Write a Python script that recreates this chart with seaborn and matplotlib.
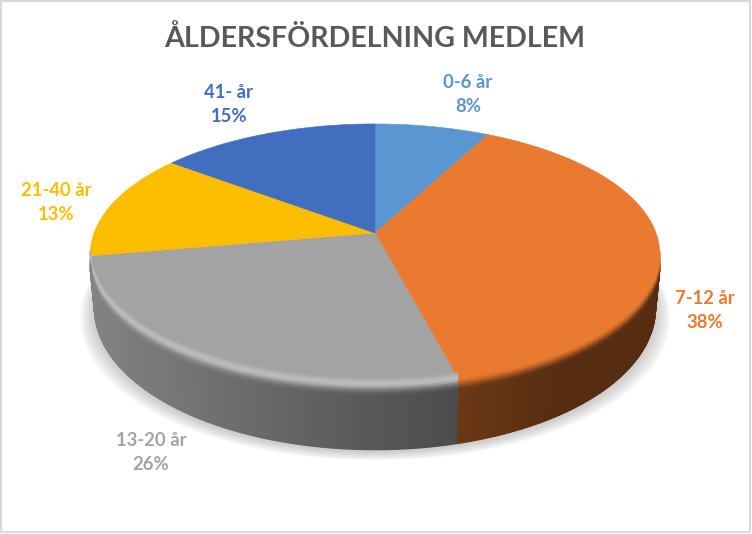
import numpy as np
import matplotlib
matplotlib.use('Agg')
import matplotlib.pyplot as plt
from matplotlib.collections import PolyCollection
from matplotlib.patches import Rectangle
import seaborn as sns

# data
age_groups = ['0-6 år', '7-12 år', '13-20 år', '21-40 år', '41- år']
shares = [7.6, 38.4, 26.2, 13.2, 14.6]
slice_colors = ['#5A96D2', '#E97A2F', '#A3A3A3', '#FDBD00', '#416EBE']
title = 'ÅLDERSFÖRDELNING MEDLEM'

# layout, in pixels of the 752x534 picture
label_pos = [(468, 95), (705, 311), (151, 453), (56, 202), (229, 104)]
apex_x, apex_y = 375, 233
scale_x, scale_y, persp = 281, 126.5, 0.16
rim_h, rim_up = 18, 5
silhouette_y = 257.5

sns.set_theme(style='white')
plt.rcParams['font.family'] = ['Lato', 'DejaVu Sans']
palette = sns.color_palette(slice_colors)

fig = plt.figure(figsize=(7.52, 5.34), dpi=100)
ax = fig.add_axes([0, 0, 1, 1])
ax.set_xlim(0, 752)
ax.set_ylim(534, 0)
ax.axis('off')


# angle measured clockwise from the top of the pie -> picture coords
def project(t):
    x, y = np.sin(t), np.cos(t)
    w = 1 + persp * y
    return apex_x + scale_x * x / w, apex_y - scale_y * y / w


def depth_at(t):
    # the bottom edge is a bit shorter towards the sides
    return 52 + 14 * np.clip(-np.cos(t), 0, 1)


def bottom_edge(t):
    px, py = project(t)
    return apex_x + (px - apex_x) * 0.985, py + depth_at(t)


def side_shade(x):
    return np.interp(x, [90, 460, 560], [0.80, 0.46, 0.37])


edges = np.cumsum([0] + shares) / sum(shares) * 2 * np.pi
all_t = np.linspace(0, 2 * np.pi, 721)

# soft shadow below the pie
for grow in np.linspace(16, 1, 12):
    bx, by = bottom_edge(all_t)
    ax.fill(apex_x + (bx - apex_x) * (1 + grow / 300), by + grow * 0.55 + 2,
            color='#808080', alpha=0.035, lw=0, zorder=1)

# top face
for i, col in enumerate(palette):
    t = np.linspace(edges[i], edges[i + 1], 200)
    px, py = project(t)
    ax.fill(np.r_[apex_x, px], np.r_[apex_y, py], color=col, lw=0.4, zorder=3)

# side wall first, rim above it, both from narrow strips per slice
wall_polys, wall_cols, rim_polys, rim_cols = [], [], [], []
for i, col in enumerate(palette):
    ts = np.linspace(edges[i], edges[i + 1], max(int(shares[i] * 4), 8))
    base = np.array(col)
    for t0, t1 in zip(ts[:-1], ts[1:]):
        x0, y0 = project(t0)
        x1, y1 = project(t1)
        if max(y0, y1) < silhouette_y:
            continue
        bx0, by0 = bottom_edge(t0)
        bx1, by1 = bottom_edge(t1)
        side = base * side_shade((x0 + x1) / 2)
        highlight = 0.10 if i == 2 else 0.0
        steps = np.linspace(0, 1, 10)
        for a, b in zip(steps[:-1], steps[1:]):
            # rim: face colour fading to the wall colour
            h0, h1 = a * rim_h - rim_up, b * rim_h - rim_up
            m = (a + b) / 2
            fade = np.clip((m - 0.3) / 0.7, 0, 1)
            fade = fade * fade * (3 - 2 * fade)
            c = base * (1 - fade) + side * fade + highlight * np.sin(np.pi * min(m / 0.65, 1))
            rim_polys.append([(x0, y0 + h0), (x1, y1 + h0), (x1, y1 + h1), (x0, y0 + h1)])
            rim_cols.append(np.clip(c, 0, 1))
        h = rim_h - rim_up
        wall_polys.append([(x0, y0 + h), (x1, y1 + h), (bx1, by1), (bx0, by0)])
        wall_cols.append(side)
ax.add_collection(PolyCollection(wall_polys, facecolors=wall_cols, edgecolors=wall_cols,
                                 linewidths=1.0, zorder=3.4))
ax.add_collection(PolyCollection(rim_polys, facecolors=rim_cols, edgecolors=rim_cols,
                                 linewidths=0.9, zorder=3.5))

# labels
for name, share, col, pos in zip(age_groups, shares, palette, label_pos):
    ax.text(pos[0], pos[1], f'{name}\n{round(share)}%', color=col, fontsize=13.3, fontweight='bold',
            ha='center', va='center', linespacing=1.5, zorder=5)

ax.text(375, 39, title, color='#595959', fontsize=20.65, fontweight='bold',
        ha='center', va='center', zorder=5)

# chart frame
ax.add_patch(Rectangle((1, 1), 749, 531, fill=False, ec='#D9D9D9', lw=1.5, zorder=6))

fig.savefig('out.png', dpi=100)
